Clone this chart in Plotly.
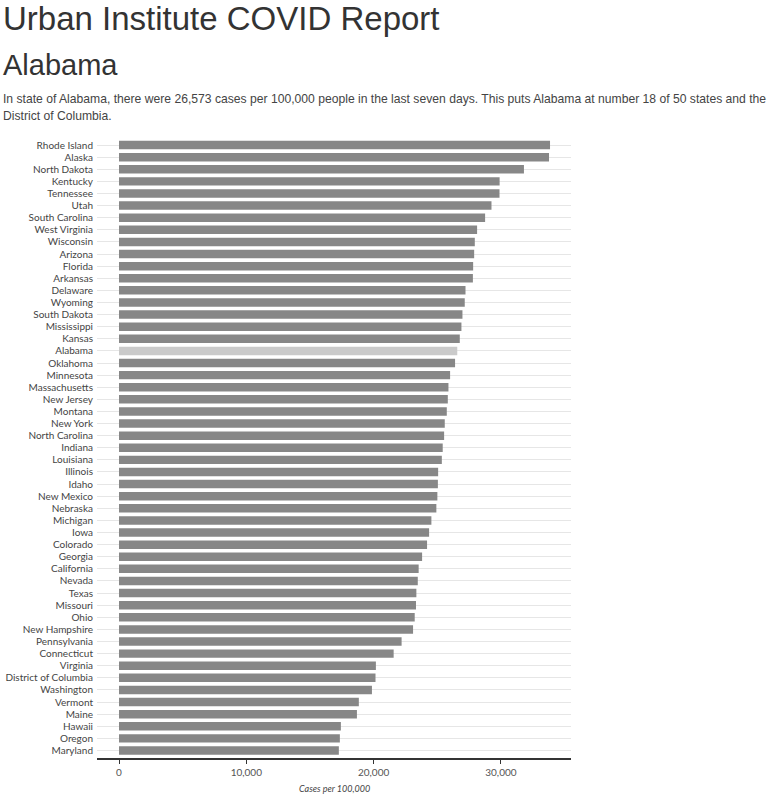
import plotly.graph_objects as go

# ---------------- data ----------------
states = [
    "Rhode Island", "Alaska", "North Dakota", "Kentucky", "Tennessee", "Utah",
    "South Carolina", "West Virginia", "Wisconsin", "Arizona", "Florida",
    "Arkansas", "Delaware", "Wyoming", "South Dakota", "Mississippi", "Kansas",
    "Alabama", "Oklahoma", "Minnesota", "Massachusetts", "New Jersey", "Montana",
    "New York", "North Carolina", "Indiana", "Louisiana", "Illinois", "Idaho",
    "New Mexico", "Nebraska", "Michigan", "Iowa", "Colorado", "Georgia",
    "California", "Nevada", "Texas", "Missouri", "Ohio", "New Hampshire",
    "Pennsylvania", "Connecticut", "Virginia", "District of Columbia",
    "Washington", "Vermont", "Maine", "Hawaii", "Oregon", "Maryland",
]
cases_per_100k = [
    33860, 33780, 31810, 29900, 29890, 29260,
    28760, 28130, 27950, 27900, 27820,
    27800, 27220, 27160, 26980, 26900, 26770,
    26573, 26400, 26010, 25880, 25830, 25750,
    25590, 25540, 25430, 25360, 25070, 25050,
    25010, 24930, 24540, 24360, 24200, 23810,
    23540, 23470, 23360, 23330, 23230, 23100,
    22200, 21575, 20180, 20150,
    19870, 18840, 18690, 17430, 17350, 17270,
]
highlight_state = "Alabama"
x_tick_values = [0, 10000, 20000, 30000]
x_axis_title = "Cases per 100,000"
page_title = "Urban Institute COVID Report"
page_heading = "Alabama"
para_line1 = ("In state of Alabama, there were 26,573 cases per 100,000 people in the last "
              "seven days. This puts Alabama at number 18 of 50 states and the")
para_line2 = "District of Columbia."

# ---------------- layout constants ----------------
W, H = 769, 795
L, R, T, B = 97, 198, 139, 37
PW, PH = W - L - R, H - T - B

def px_x(x):
    return (x - L) / PW

def px_y(y):
    return (H - B - y) / PH

bar_colors = ["#cacaca" if s == highlight_state else "#878787" for s in states]

fig = go.Figure(
    go.Bar(
        x=cases_per_100k,
        y=states,
        orientation="h",
        marker=dict(color=bar_colors, line=dict(width=0)),
        width=0.7,
        hoverinfo="x+y",
    )
)

fig.update_layout(
    width=W,
    height=H,
    margin=dict(l=L, r=R, t=T, b=B, autoexpand=False),
    paper_bgcolor="white",
    plot_bgcolor="white",
    showlegend=False,
    font=dict(family="Lato, sans-serif", color="#444444"),
)

fig.update_xaxes(
    range=[-1728, 35507],
    tickvals=x_tick_values,
    tickformat=",d",
    showgrid=False,
    zeroline=False,
    showline=True,
    linecolor="#333333",
    linewidth=1.5,
    ticks="outside",
    ticklen=4,
    tickwidth=1,
    tickcolor="#333333",
    tickfont=dict(family="Lato, sans-serif", size=10, color="#555555"),
    automargin=False,
)

fig.update_yaxes(
    categoryorder="array",
    categoryarray=states,
    range=[50.62, -0.5],
    showgrid=True,
    gridcolor="#e6e6e6",
    gridwidth=1.2,
    zeroline=False,
    showline=False,
    ticks="",
    ticklabelstandoff=3,
    tickfont=dict(family="Lato, sans-serif", size=10, color="#444444"),
    automargin=False,
)

annotations = [
    dict(text=page_title, x=px_x(1), y=px_y(18), xanchor="left", yanchor="middle",
         font=dict(family="Liberation Sans, Arial, sans-serif", size=33, color="#333333")),
    dict(text=page_heading, x=px_x(1), y=px_y(65), xanchor="left", yanchor="middle",
         font=dict(family="Liberation Sans, Arial, sans-serif", size=29, color="#333333")),
    dict(text=para_line1, x=px_x(1), y=px_y(98.5), xanchor="left", yanchor="middle",
         font=dict(family="Liberation Sans, Arial, sans-serif", size=12.15, color="#444444")),
    dict(text=para_line2, x=px_x(1), y=px_y(115.5), xanchor="left", yanchor="middle",
         font=dict(family="Liberation Sans, Arial, sans-serif", size=12.15, color="#444444")),
    dict(text="<i>" + x_axis_title + "</i>", x=px_x(334), y=px_y(788), xanchor="center",
         yanchor="middle",
         font=dict(family="Lato, sans-serif", size=9, color="#444444")),
]
for a in annotations:
    a.update(xref="paper", yref="paper", showarrow=False)
fig.update_layout(annotations=annotations)

# remove the browser's default 8px body margin so the figure fills the window
fig.write_html(
    "out.html",
    config={"displayModeBar": False},
    post_script="document.body.style.margin='0';document.body.style.overflow='hidden';",
)
